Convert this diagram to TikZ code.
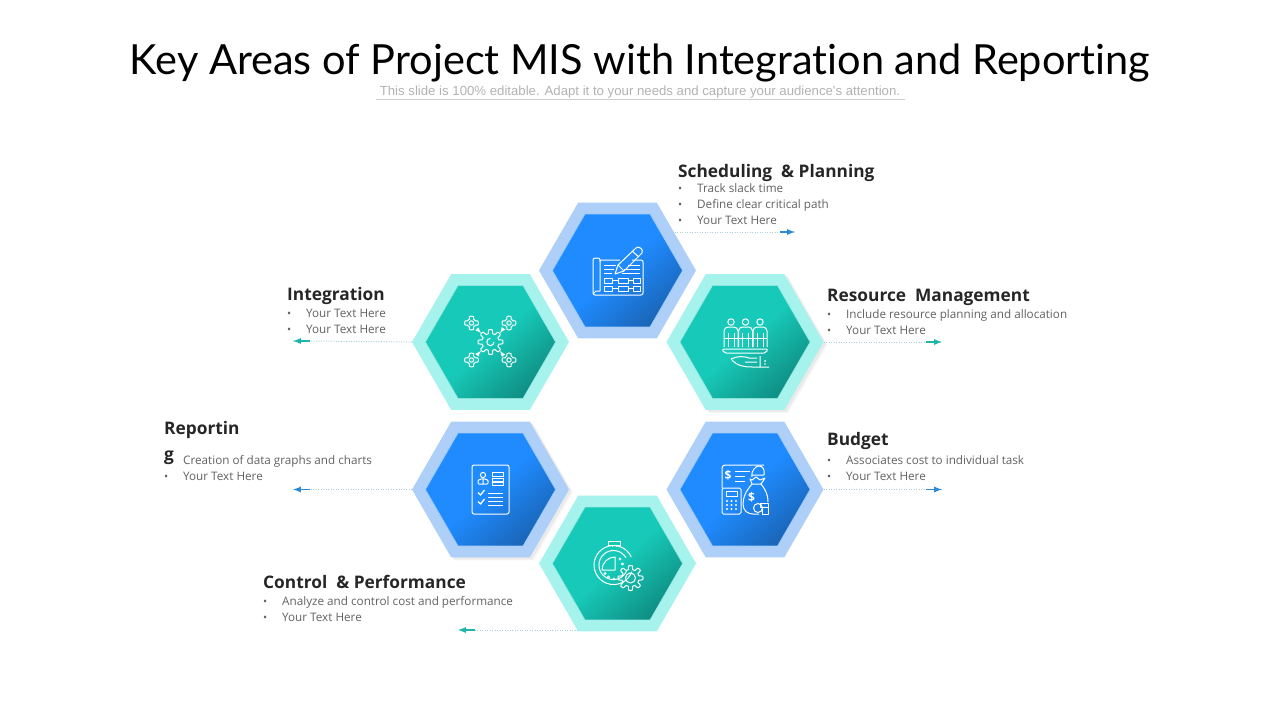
\documentclass[tikz,border=0pt]{standalone}
\usepackage{fontspec}
\setmainfont{Open Sans}
\newfontfamily\titlefont[Ligatures=NoCommon]{Lato}
\newfontfamily\subfont{Liberation Sans}
\usetikzlibrary{shapes.geometric,shadows}
\definecolor{blueOuter}{HTML}{AECFF8}
\definecolor{blueTop}{HTML}{1F8BFF}
\definecolor{blueLow}{HTML}{1A66B8}
\definecolor{tealOuter}{HTML}{A5F3EC}
\definecolor{tealTop}{HTML}{17C9B8}
\definecolor{tealLow}{HTML}{0F8F84}
\definecolor{dotLine}{HTML}{A9CFDA}
\definecolor{arrowBlue}{HTML}{2C8AD6}
\definecolor{arrowTeal}{HTML}{20B5AC}
\definecolor{headText}{HTML}{262626}
\definecolor{bodyText}{HTML}{626262}
\tikzset{
    hexout/.style={regular polygon, regular polygon sides=6, minimum size=157pt, inner sep=0pt, outer sep=0pt, fill=#1},
    hexin/.style={regular polygon, regular polygon sides=6, minimum size=130pt, inner sep=0pt, outer sep=0pt},
    hexblue/.style={hexin, draw=white!55!blueTop, line width=.5pt, top color=blueTop, bottom color=blueLow, middle color=blueTop, shading angle=42},
    hexteal/.style={hexin, draw=white!55!tealTop, line width=.5pt, top color=tealTop, bottom color=tealLow, middle color=tealTop, shading angle=42},
    softshadow/.style={
        general shadow={shadow xshift=4pt, shadow yshift=-3pt, fill=black, opacity=.03},
        general shadow={shadow xshift=2.5pt, shadow yshift=-2pt, fill=black, opacity=.05}},
    heading/.style={anchor=base west, inner sep=0pt, text=headText, font=\fontsize{17.3}{20}\selectfont\bfseries},
    bodyline/.style={anchor=base west, inner sep=0pt, text=bodyText, font=\fontsize{11.7}{13}\selectfont},
    iconline/.style={draw=white, line width=1pt, line join=round},
    dotwire/.style={draw=dotLine, line width=1pt, dash pattern=on 1pt off 1.5pt},
    tipwire/.style={-latex, line width=1.7pt, draw=#1},
}
\newcommand{\bul}{\makebox[19pt][l]{\fontsize{11}{11}\selectfont\textbullet}}
\newcommand{\gearline}[5]{\draw[iconline] plot[domain=0:360, samples=121]
    ({#1+(#3+#4*max(-1,min(1,2.5*cos(#5*\x))))*cos(\x)},{#2+(#3+#4*max(-1,min(1,2.5*cos(#5*\x))))*sin(\x)}) -- cycle;}
\begin{document}
\begin{tikzpicture}[x=1pt,y=-1pt]
    \useasboundingbox (0,0) rectangle (1280,720);

    % title
    \node (mainTitle) [inner sep=0pt, anchor=base, font=\fontsize{41.5}{44}\selectfont\titlefont] at (640,74)
        {Key Areas of Project MIS with Integration and Reporting};
    \node (subTitle) [inner sep=0pt, anchor=base, text=black!30, font=\fontsize{13.2}{15}\selectfont\subfont] at (640,95)
        {This slide is 100\% editable. Adapt it to your needs and capture your audience's attention.};
    \coordinate (ruleL) at (376,99.5);
    \coordinate (ruleR) at (905,99.5);
    \draw[black!20, line width=.7pt] (ruleL) -- (ruleR);

    % hexagons
    \node (outSched) [hexout=blueOuter] at (617.5,270.5) {};
    \node (outInteg) [hexout=tealOuter] at (490.5,342) {};
    \node (outRes) [hexout=tealOuter, softshadow] at (745,342) {};
    \node (outRep) [hexout=blueOuter, softshadow] at (490.5,489.5) {};
    \node (outBud) [hexout=blueOuter] at (745,489.5) {};
    \node (outCtrl) [hexout=tealOuter] at (617.5,563.5) {};
    \node (inSched) [hexblue] at (outSched) {};
    \node (inInteg) [hexteal] at (outInteg) {};
    \node (inRes) [hexteal] at (outRes) {};
    \node (inRep) [hexblue] at (outRep) {};
    \node (inBud) [hexblue] at (outBud) {};
    \node (inCtrl) [hexteal] at (outCtrl) {};

    % connectors
    \coordinate (schedFrom) at (672,232);
    \coordinate (ctrlFrom) at (578,630);
    \foreach \nm/\src/\bx/\by/\ex/\col in {
        wSched/schedFrom/780/232/795/arrowBlue,
        wRes/outRes.east/926/342/942/arrowTeal,
        wBud/outBud.east/926/489.5/942/arrowBlue,
        wInteg/outInteg.west/310/341/293/arrowTeal,
        wRep/outRep.west/310/489.5/293/arrowBlue,
        wCtrl/ctrlFrom/475/630/458/arrowTeal}{
        \coordinate (\nm Tail) at (\bx,\by);
        \coordinate (\nm Tip) at (\ex,\by);
        \draw[dotwire] (\src) -- (\nm Tail);
        \draw[tipwire=\col] (\nm Tail) -- (\nm Tip);
    }

    % labels
    \foreach \nm/\px/\py/\txt in {
        hSched/678/177/Scheduling\ \ \& Planning,
        hRes/827/301/Resource\ \ Management,
        hInteg/287/300/Integration,
        hBud/827/445/Budget,
        hRep/164/434/Reportin,
        hRepB/164/460/g,
        hCtrl/263/588/Control\ \ \& Performance}{
        \node (\nm) [heading] at (\px,\py) {\txt};
    }
    \foreach \nm/\px/\py/\txt in {
        lSchedA/678/192/\bul Track slack time,
        lSchedB/678/208/\bul Define clear critical path,
        lSchedC/678/224/\bul Your Text Here,
        lResA/827/318/\bul Include resource planning and allocation,
        lResB/827/334/\bul Your Text Here,
        lIntegA/287/317/\bul Your Text Here,
        lIntegB/287/333/\bul Your Text Here,
        lBudA/827/464/\bul Associates cost to individual task,
        lBudB/827/480/\bul Your Text Here,
        lRepA/183/464/Creation of data graphs and charts,
        lRepB/164/480/\bul Your Text Here,
        lCtrlA/263/605/\bul Analyze and control cost and performance,
        lCtrlB/263/621/\bul Your Text Here}{
        \node (\nm) [bodyline] at (\px,\py) {\txt};
    }

    % plan and pencil
    \draw[iconline] (620,260) -- (600,260) -- (600,291) -- (596,291) -- (593,294);
    \draw[iconline, rounded corners=2pt] (600,262) -- (600,258) -- (593,258) -- (593,295) -- (643,295) -- (643,260) -- (632,260);
    \foreach \ya/\xa/\xb in {265/604/616, 269/604/614, 273/604/612, 265/628/640, 269/624/640, 273/622/640}{
        \draw[iconline] (\xa,\ya) -- (\xb,\ya);
    }
    \foreach \ya in {278,286}{
        \draw[iconline] (604,\ya) rectangle +(8,5.5) (618,\ya) rectangle +(10,5.5) (633,\ya) rectangle +(7,5.5);
        \draw[iconline] (612,\ya+2.7) -- (618,\ya+2.7) (628,\ya+2.7) -- (633,\ya+2.7);
    }
    \draw[iconline] (615,274) -- (618,265) -- (636,248) .. controls (639,245) and (644,250) .. (642,253) -- (624,271) -- cycle;
    \draw[iconline] (618,265) -- (624,271) (632,251) -- (639,257);

    % people on a hand
    \foreach \hx in {731,745.5,760}{
        \draw[iconline] (\hx,322) circle[radius=3.2];
        \draw[iconline, rounded corners=4pt] (\hx-7,347) -- (\hx-7,327) -- (\hx+7,327) -- (\hx+7,347);
        \draw[iconline] (\hx-3,333) -- (\hx-3,347) (\hx+3,333) -- (\hx+3,347);
    }
    \draw[iconline] (724,338) -- (767,338);
    \draw[iconline, rounded corners=2pt] (722,349) -- (768,349) -- (766,353) -- (724,353) -- cycle;
    \draw[iconline] (731,359) .. controls (737,356) and (744,356) .. (749,358) -- (757,358) (745,362) -- (757,362)
        (731,359) .. controls (737,366) and (744,367) .. (752,367) -- (769,367) (760,356) -- (760,367);
    \fill[white] (765,361) circle[radius=1] (765,364) circle[radius=.8];

    % gears and arrows
    \gearline{490.5}{342}{10.5}{2}{8}
    \draw[iconline] (494,342) arc[start angle=0, end angle=270, radius=3.6];
    \foreach \gx/\gy/\ax/\ay/\bx/\by in {
        471.5/323/477/329/481/333,
        509/323/503/329/500/333,
        471.5/360/477/355/481/351,
        509/360/503/355/500/351}{
        \gearline{\gx}{\gy}{5.6}{1.2}{4}
        \draw[iconline] (\gx,\gy) circle[radius=2.2];
        \draw[iconline, -latex] (\ax,\ay) -- (\bx,\by);
    }

    % checklist
    \draw[iconline, rounded corners=2pt] (472,465) rectangle (509,514);
    \draw[iconline] (483,475) circle[radius=2.6];
    \draw[iconline, rounded corners=1pt] (478,484) -- (478,480) -- (483,478.5) -- (488,480) -- (488,484) -- cycle (483,478.5) -- (483,484);
    \draw[iconline] (492,472) rectangle (503,476) (492,478) rectangle (503,481) (492,482) rectangle (503,485);
    \foreach \cy in {494,503}{
        \draw[iconline, line width=1.3pt] (478,\cy-1.5) -- (480.5,\cy+1) -- (484.5,\cy-4);
    }
    \foreach \cy in {493,497,501.5,505}{
        \draw[iconline] (488,\cy) -- (503,\cy);
    }

    % budget paper, calculator and bag
    \draw[iconline, rounded corners=3pt] (722,488) -- (722,465) -- (764,465);
    \draw[iconline] (752,477) .. controls (751,470) and (756,466) .. (759,466) .. controls (763,466) and (765,470) .. (764,475) -- (752,475);
    \node (dollarTop) [inner sep=0pt, text=white, font=\fontsize{12}{12}\selectfont\bfseries] at (728,475) {\$};
    \draw[iconline] (735,471) -- (750,471) (735,476) -- (745,476) (735,481) -- (745,481);
    \draw[iconline, rounded corners=1.5pt] (722,488) rectangle (741,514);
    \draw[iconline] (726,491.5) rectangle (737,496);
    \foreach \kx in {727,731.5,736}{
        \foreach \ky in {501,505,509}{
            \fill[white] (\kx,\ky) circle[radius=1.2];
        }
    }
    \draw[iconline] (750,479) -- (752,484) -- (761,484) -- (765,478) -- (760,480) -- (756,477) -- (752,480) -- cycle;
    \draw[iconline] (752,484) .. controls (746,491) and (743,497) .. (743,504) .. controls (743,511) and (748,514) .. (753,514) -- (759,514);
    \draw[iconline] (761,484) .. controls (765,489) and (768,494) .. (768,502);
    \node (dollarBag) [inner sep=0pt, text=white, font=\fontsize{12}{12}\selectfont\bfseries] at (751.5,497) {\$};
    \draw[iconline] (758,508) circle[radius=4.5];
    \draw[iconline] (760,503) rectangle (768,507) (762,507) rectangle (768,514);

    % stopwatch
    \draw[iconline] (608,541) rectangle (620,545) (612,545) -- (612,547) (616,545) -- (616,547);
    \draw[iconline] (631.2,556.8) arc[start angle=-25, end angle=-340, radius=19.5];
    \draw[iconline] (626,557.8) arc[start angle=-30, end angle=-335, radius=14.5];
    \draw[iconline] (615,570) -- (602,570) arc[start angle=180, end angle=270, radius=13] -- cycle;
    \foreach \dx/\dy in {620/559, 622.5/564, 605/573.5, 608.5/577, 614/579}{
        \draw[iconline, line width=.7pt] (\dx,\dy) circle[radius=1.1];
    }
    \gearline{630.5}{578}{10.5}{2}{8}
    \draw[iconline] (630.5,578) circle[radius=5];
\end{tikzpicture}
\end{document}
